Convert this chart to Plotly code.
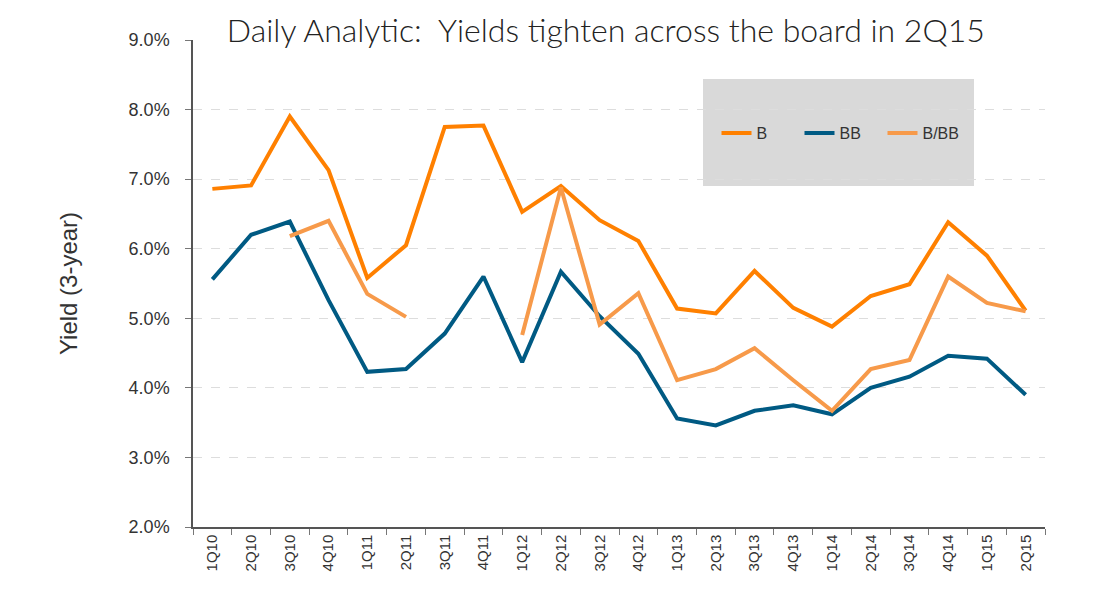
import plotly.graph_objects as go

quarters = ["1Q10", "2Q10", "3Q10", "4Q10", "1Q11", "2Q11", "3Q11", "4Q11",
            "1Q12", "2Q12", "3Q12", "4Q12", "1Q13", "2Q13", "3Q13", "4Q13",
            "1Q14", "2Q14", "3Q14", "4Q14", "1Q15", "2Q15"]

b_yield = [6.86, 6.91, 7.90, 7.13, 5.58, 6.05, 7.75, 7.77, 6.53, 6.90, 6.41,
           6.11, 5.14, 5.07, 5.68, 5.15, 4.88, 5.32, 5.49, 6.38, 5.90, 5.11]
bb_yield = [5.56, 6.20, 6.39, 5.26, 4.23, 4.27, 4.78, 5.60, 4.37, 5.67, 5.03,
            4.49, 3.56, 3.46, 3.67, 3.75, 3.62, 4.00, 4.16, 4.46, 4.42, 3.90]
bbb_yield = [None, None, 6.18, 6.40, 5.35, 5.02, None, None, 4.76, 6.88, 4.91,
             5.36, 4.11, 4.27, 4.57, 4.11, 3.67, 4.27, 4.40, 5.60, 5.22, 5.10]

y_ticks = [2, 3, 4, 5, 6, 7, 8, 9]
y_tick_text = [f"{v:.1f}%" for v in y_ticks]

series = [
    ("B", b_yield, "#FF8000"),
    ("BB", bb_yield, "#005A83"),
    ("B/BB", bbb_yield, "#F79A4A"),
]

SANS = "Liberation Sans, Arial, sans-serif"

fig = go.Figure()
for name, vals, color in series:
    fig.add_trace(go.Scatter(
        x=quarters, y=vals, name=name, mode="lines",
        line=dict(color=color, width=4), connectgaps=False,
    ))

# grey box behind the legend
fig.add_shape(type="rect", xref="paper", yref="paper",
              x0=(703 - 193) / 852, x1=(974 - 193) / 852,
              y0=(527 - 186) / 487, y1=(527 - 79) / 487,
              fillcolor="#D9D9D9", line=dict(width=0), layer="below")

fig.update_layout(
    width=1097, height=603,
    margin=dict(l=185, r=60, t=32, b=84),
    paper_bgcolor="white", plot_bgcolor="white",
    title=dict(text="Daily Analytic:  Yields tighten across the board in 2Q15",
               x=0.545, xanchor="center", y=0.963, yanchor="middle",
               font=dict(family="Lato", size=32, color="#222222", weight=300)),
    font=dict(family=SANS, color="#333333"),
    legend=dict(orientation="h", x=(841 - 193) / 852, xanchor="center",
                y=(527 - 133) / 487, yanchor="middle", bgcolor="rgba(0,0,0,0)",
                font=dict(family=SANS, size=16, color="#333333"),
                entrywidth=38, entrywidthmode="pixels",
                tracegroupgap=0),
    showlegend=True,
)

fig.update_xaxes(
    type="category", tickangle=-90,
    tickfont=dict(family=SANS, size=15, color="#333333"),
    showline=True, linecolor="#555555", linewidth=1.5,
    ticks="outside", tickson="boundaries", ticklen=6, tickcolor="#777777",
    showgrid=False, range=[-0.5, 21.5],
)
fig.update_yaxes(
    range=[2, 9], tickvals=y_ticks, ticktext=y_tick_text,
    tickfont=dict(family=SANS, size=18, color="#333333"),
    ticklabelstandoff=12,
    showline=True, linecolor="#555555", linewidth=1.5,
    ticks="outside", ticklen=6, tickcolor="#777777",
    showgrid=True, gridcolor="#DDDDDD", griddash="dash", gridwidth=1,
    zeroline=False,
    title=dict(text="Yield (3-year)",
               font=dict(family=SANS, size=24, color="#333333"),
               standoff=44),
)

fig.write_html("out.html")
